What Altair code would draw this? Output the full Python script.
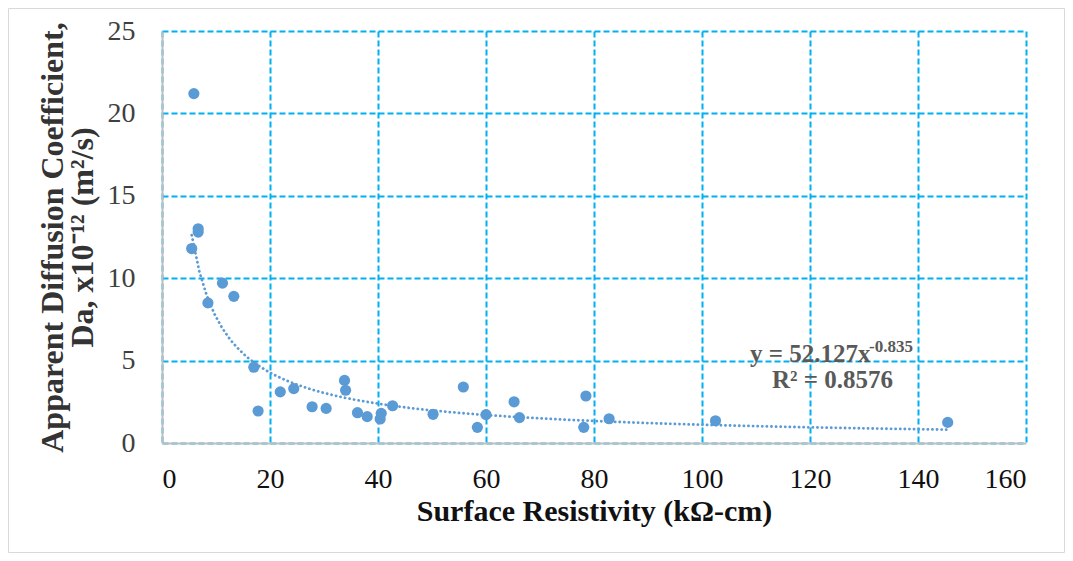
import altair as alt
import pandas as pd

# Surface resistivity (kΩ-cm) and apparent diffusion coefficient (x10^-12 m²/s)
resistivity = [5.9, 6.7, 6.7, 5.5, 11.2, 13.3, 8.5, 17.0, 17.8, 21.9, 24.4, 27.8,
               30.4, 33.8, 34.0, 36.2, 38.0, 40.6, 40.4, 42.7, 50.2, 55.8, 58.4,
               60.0, 65.2, 66.2, 78.5, 78.1, 82.8, 102.5, 145.5]
diffusion = [21.2, 13.0, 12.8, 11.8, 9.7, 8.9, 8.5, 4.6, 1.94, 3.1, 3.3, 2.2,
             2.1, 3.8, 3.2, 1.84, 1.6, 1.8, 1.46, 2.26, 1.74, 3.4, 0.95,
             1.72, 2.5, 1.54, 2.85, 0.95, 1.47, 1.35, 1.25]

x_ticks = [0, 20, 40, 60, 80, 100, 120, 140, 160]
y_ticks = [0, 5, 10, 15, 20, 25]

eq_main = "y = 52.127x"
eq_sup = "-0.835"
r2_text = "R² = 0.8576"

df = pd.DataFrame({"R": resistivity, "D": diffusion})
one = pd.DataFrame({"k": [0]})

FONT = "Liberation Serif"
BLUE = "#5B9BD5"
GRID = "#00B0F0"

x_enc = alt.X("R:Q", scale=alt.Scale(domain=[0, 160], nice=False),
              axis=alt.Axis(values=x_ticks, title="Surface Resistivity (kΩ-cm)",
                            grid=True, gridColor=GRID, gridDash=[6, 3], gridWidth=2,
                            ticks=False, domainColor="#BFBFBF", domainWidth=2,
                            labelFont=FONT, labelFontSize=28, labelColor="#111111",
                            labelPadding=22, titleFont=FONT, titleFontSize=30,
                            titleFontWeight="bold", titleColor="#111111",
                            titleBaseline="alphabetic", titleY=77))
y_enc = alt.Y("D:Q", scale=alt.Scale(domain=[0, 25], nice=False),
              axis=alt.Axis(values=y_ticks,
                            title=["Apparent Diffusion Coefficient,", "Da, x10⁻¹² (m²/s)"],
                            grid=True, gridColor=GRID, gridDash=[6, 3], gridWidth=2,
                            ticks=False, domainColor="#BFBFBF", domainWidth=2,
                            labelFont=FONT, labelFontSize=28, labelColor="#404040",
                            labelPadding=27, titleFont=FONT, titleFontSize=32,
                            titleFontWeight="bold", titleColor="#333333",
                            titleBaseline="alphabetic", titleX=-100,
                            titleLineHeight=30))

points = alt.Chart(df).mark_circle(size=125, color=BLUE, opacity=1).encode(x=x_enc, y=y_enc)

trend = alt.Chart(df).transform_regression(
    "R", "D", method="pow"
).mark_line(color=BLUE, strokeDash=[0.1, 4.5], strokeWidth=2.8, strokeCap="round").encode(
    x=alt.X("R:Q"), y=alt.Y("D:Q"))

ann_main = alt.Chart(one).mark_text(font=FONT, fontSize=25, fontWeight="bold",
                                    color="#595959", align="left", baseline="alphabetic").encode(
    x=alt.value(588), y=alt.value(331), text=alt.datum(eq_main))
ann_sup = alt.Chart(one).mark_text(font=FONT, fontSize=17, fontWeight="bold",
                                   color="#595959", align="left", baseline="alphabetic").encode(
    x=alt.value(707), y=alt.value(321), text=alt.datum(eq_sup))
ann_r2 = alt.Chart(one).mark_text(font=FONT, fontSize=25, fontWeight="bold",
                                  color="#595959", align="left", baseline="alphabetic").encode(
    x=alt.value(610), y=alt.value(357), text=alt.datum(r2_text))

frame = alt.Chart(one).mark_rect(fillOpacity=0, stroke="#D9D9D9", strokeWidth=1).encode(
    x=alt.value(-153.5), x2=alt.value(902.5), y=alt.value(-22.5), y2=alt.value(521.5))

chart = alt.layer(frame, trend, points, ann_main, ann_sup, ann_r2).properties(
    width=864, height=412,
    autosize=alt.AutoSizeParams(type="none"),
    padding={"left": 154, "top": 23, "right": 39, "bottom": 110},
).configure_view(stroke=None)

chart.save("out.html", embed_options={"renderer": "svg", "actions": False})
